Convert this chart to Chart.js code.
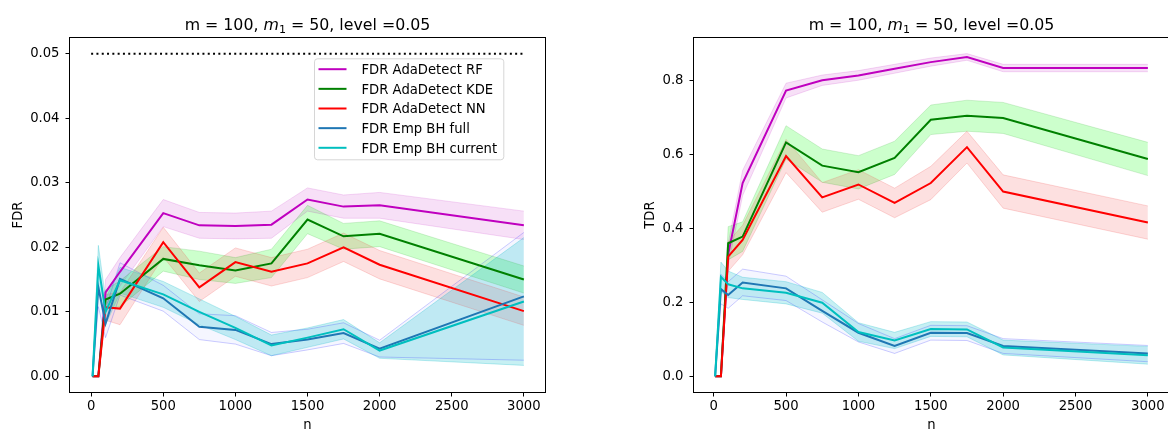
<!DOCTYPE html>
<html><head><meta charset="utf-8">
<script src="https://cdn.jsdelivr.net/npm/chart.js@4/dist/chart.umd.min.js"></script>
<style>
html,body{margin:0;padding:0;background:#fff;overflow:hidden;width:1168px;height:429px;position:relative;}
#c1{position:absolute;left:0;top:0;}
#c2{position:absolute;left:584px;top:0;}
</style></head><body>
<canvas id="c1" width="584" height="429"></canvas>
<canvas id="c2" width="600" height="429"></canvas>
<script>
// ---------- data ----------
const nValues = [10, 50, 100, 200, 500, 750, 1000, 1250, 1500, 1750, 2000, 3000];
const seriesLabels = ['FDR AdaDetect RF', 'FDR AdaDetect KDE', 'FDR AdaDetect NN', 'FDR Emp BH full', 'FDR Emp BH current'];
const level = 0.05;
const plotTitle = ['m = 100, ', 'm', '1', ' = 50, level =0.05'];

const fdrRF      = [0, 0, 0.0130, 0.0162, 0.0253, 0.0234, 0.0233, 0.0235, 0.0274, 0.0263, 0.0265, 0.0234];
const fdrKDE     = [0, 0, 0.0119, 0.0128, 0.0182, 0.0172, 0.0164, 0.0175, 0.0243, 0.0217, 0.0221, 0.0150];
const fdrNN      = [0, 0, 0.0107, 0.0105, 0.0208, 0.0138, 0.0177, 0.0162, 0.0175, 0.0200, 0.0173, 0.0101];
const fdrFull    = [0, 0.0138, 0.0082, 0.0151, 0.0121, 0.0077, 0.0072, 0.0050, 0.0057, 0.0067, 0.0043, 0.0124];
const fdrCurrent = [0, 0.0172, 0.0100, 0.0149, 0.0127, 0.0100, 0.0075, 0.0048, 0.0060, 0.0073, 0.0040, 0.0116];

const fdrRFsd      = [0, 0, 0.0020, 0.0022, 0.0021, 0.0020, 0.0020, 0.0021, 0.0018, 0.0018, 0.0020, 0.0022];
const fdrKDEsd     = [0, 0, 0.0015, 0.0020, 0.0019, 0.0022, 0.0020, 0.0022, 0.0022, 0.0020, 0.0020, 0.0021];
const fdrNNsd      = [0, 0, 0.0020, 0.0025, 0.0023, 0.0022, 0.0022, 0.0022, 0.0022, 0.0022, 0.0022, 0.0022];
const fdrFullsd    = [0, 0.0030, 0.0022, 0.0025, 0.0020, 0.0020, 0.0022, 0.0018, 0.0016, 0.0016, 0.0013, 0.0099];
const fdrCurrentsd = [0, 0.0031, 0.0020, 0.0020, 0.0020, 0.0020, 0.0018, 0.0016, 0.0015, 0.0015, 0.0012, 0.0099];

const tdrRF      = [0, 0, 0.330, 0.523, 0.773, 0.801, 0.814, 0.832, 0.850, 0.864, 0.834, 0.834];
const tdrKDE     = [0, 0, 0.360, 0.378, 0.633, 0.570, 0.552, 0.591, 0.694, 0.705, 0.699, 0.588];
const tdrNN      = [0, 0, 0.324, 0.369, 0.596, 0.484, 0.519, 0.469, 0.523, 0.620, 0.500, 0.416];
const tdrFull    = [0, 0.236, 0.220, 0.254, 0.238, 0.177, 0.118, 0.082, 0.118, 0.117, 0.082, 0.0615];
const tdrCurrent = [0, 0.269, 0.249, 0.238, 0.226, 0.199, 0.120, 0.097, 0.128, 0.127, 0.078, 0.057];

const tdrRFsd      = [0, 0, 0.030, 0.034, 0.020, 0.014, 0.013, 0.012, 0.011, 0.009, 0.010, 0.010];
const tdrKDEsd     = [0, 0, 0.045, 0.040, 0.045, 0.045, 0.045, 0.045, 0.040, 0.042, 0.042, 0.045];
const tdrNNsd      = [0, 0, 0.040, 0.040, 0.045, 0.040, 0.040, 0.040, 0.045, 0.043, 0.045, 0.045];
const tdrFullsd    = [0, 0.040, 0.036, 0.036, 0.033, 0.030, 0.025, 0.020, 0.020, 0.020, 0.020, 0.022];
const tdrCurrentsd = [0, 0.040, 0.036, 0.030, 0.030, 0.028, 0.025, 0.022, 0.020, 0.020, 0.020, 0.024];

const xTickValues = [0, 500, 1000, 1500, 2000, 2500, 3000];
const xTickLabels = ['0', '500', '1000', '1500', '2000', '2500', '3000'];
const fdrTickValues = [0, 0.01, 0.02, 0.03, 0.04, 0.05];
const fdrTickLabels = ['0.00', '0.01', '0.02', '0.03', '0.04', '0.05'];
const tdrTickValues = [0, 0.2, 0.4, 0.6, 0.8];
const tdrTickLabels = ['0.0', '0.2', '0.4', '0.6', '0.8'];

// ---------- styles ----------
const styles = [
  {color: '#bf00bf', fill: 'rgba(191,0,191,0.12)', edge: 'rgba(191,0,191,0.15)'},
  {color: '#008000', fill: 'rgba(0,255,0,0.2)',    edge: 'rgba(0,150,0,0.15)'},
  {color: '#ff0000', fill: 'rgba(240,50,50,0.15)', edge: 'rgba(240,50,50,0.18)'},
  {color: '#1f77b4', fill: 'rgba(90,110,255,0.06)', edge: 'rgba(0,0,255,0.2)'},
  {color: '#00bfbf', fill: 'rgba(0,185,200,0.22)', edge: 'rgba(0,185,200,0.25)'}
];
const FONT = '"DejaVu Sans", "Liberation Sans", sans-serif';
const TICK_SIZE = 13.2, TITLE_SIZE = 15.8;

function makePlot(id, W, H, area, o) {
  const ds = [];
  if (o.level != null) {
    ds.push({data: [{x: 0, y: o.level}, {x: 3000, y: o.level}], borderColor: '#000', borderWidth: 2,
             borderDash: [2, 3.3], fill: false, pointRadius: 0});
  }
  for (let k = o.means.length - 1; k >= 0; k--) {
    ds.push({label: seriesLabels[k], data: nValues.map((n, i) => ({x: n, y: o.means[k][i]})),
             borderColor: styles[k].color, borderWidth: 2, fill: false, pointRadius: 0});
  }
  for (let k = o.means.length - 1; k >= 0; k--) {
    ds.push({data: nValues.map((n, i) => ({x: n, y: o.means[k][i] + o.sds[k][i]})),
             borderColor: styles[k].edge, borderWidth: 1, fill: false, pointRadius: 0});
    ds.push({data: nValues.map((n, i) => ({x: n, y: o.means[k][i] - o.sds[k][i]})),
             borderColor: styles[k].edge, borderWidth: 1, backgroundColor: styles[k].fill, fill: '-1', pointRadius: 0});
  }

  const deco = {
    id: 'deco',
    afterDraw(chart) {
      const ctx = chart.ctx, a = chart.chartArea;
      ctx.save();
      // frame
      ctx.strokeStyle = '#000'; ctx.lineWidth = 1;
      ctx.strokeRect(a.left, a.top, a.right - a.left, a.bottom - a.top);
      // title with math-italic m_1
      const cx = (a.left + a.right) / 2, by = 29.5;
      const fN = TITLE_SIZE + 'px ' + FONT, fI = 'italic ' + TITLE_SIZE + 'px ' + FONT,
            fS = (TITLE_SIZE * 0.7).toFixed(2) + 'px ' + FONT;
      const parts = [[plotTitle[0], fN, 0], [plotTitle[1], fI, 0], [plotTitle[2], fS, 3.5], [plotTitle[3], fN, 0]];
      let total = 0;
      parts.forEach(p => { ctx.font = p[1]; p.push(ctx.measureText(p[0]).width); total += p[3]; });
      let x = cx - total / 2;
      ctx.fillStyle = '#000'; ctx.textBaseline = 'alphabetic'; ctx.textAlign = 'left';
      parts.forEach(p => { ctx.font = p[1]; ctx.fillText(p[0], x, by + p[2]); x += p[3]; });
      // axis labels
      ctx.font = TICK_SIZE + 'px ' + FONT;
      ctx.textAlign = 'center';
      ctx.fillText('n', cx, 428.5);
      ctx.save();
      ctx.translate(o.yLabelX, (a.top + a.bottom) / 2);
      ctx.rotate(-Math.PI / 2);
      ctx.textBaseline = 'middle';
      ctx.fillText(o.yLabel, 0, 0);
      ctx.restore();
      // legend
      if (o.legend) {
        const bx = 314, bw = 189.3, btop = 58.3, bh = 101;
        ctx.beginPath();
        ctx.roundRect(bx + 0.5, btop + 0.5, bw, bh, 3);
        ctx.fillStyle = 'rgba(255,255,255,0.8)'; ctx.fill();
        ctx.strokeStyle = 'rgba(204,204,204,0.8)'; ctx.lineWidth = 1; ctx.stroke();
        ctx.font = TICK_SIZE + 'px ' + FONT;
        ctx.textAlign = 'left'; ctx.textBaseline = 'alphabetic';
        for (let k = 0; k < seriesLabels.length; k++) {
          const ry = 69.2 + k * 19.65;
          ctx.strokeStyle = styles[k].color; ctx.lineWidth = 2;
          ctx.beginPath(); ctx.moveTo(318.5, ry); ctx.lineTo(346.5, ry); ctx.stroke();
          ctx.fillStyle = '#000';
          ctx.fillText(seriesLabels[k], 361.5, ry + 4.8);
        }
      }
      ctx.restore();
    }
  };

  return new Chart(document.getElementById(id), {
    type: 'line',
    data: {datasets: ds},
    options: {
      responsive: false, animation: false, devicePixelRatio: 1,
      layout: {padding: {left: 0, top: area.top, right: W - area.right, bottom: 0}, autoPadding: false},
      elements: {line: {tension: 0}, point: {radius: 0}},
      plugins: {legend: {display: false}, tooltip: {enabled: false}, filler: {drawTime: 'beforeDatasetsDraw'}},
      scales: {
        x: {
          type: 'linear', min: o.xMin, max: o.xMax, bounds: 'data',
          afterBuildTicks: s => { s.ticks = xTickValues.map(v => ({value: v})); },
          afterFit: s => { s.height = H - area.bottom; },
          ticks: {autoSkip: false, maxRotation: 0, minRotation: 0, padding: 2.5, color: '#000',
                  font: {family: FONT, size: TICK_SIZE}, callback: (v, i) => xTickLabels[i]},
          grid: {display: true, drawOnChartArea: false, drawTicks: true, tickLength: 4, color: '#000', lineWidth: 1},
          border: {display: false}
        },
        y: {
          type: 'linear', min: o.yMin, max: o.yMax, bounds: 'data',
          afterBuildTicks: s => { s.ticks = o.yTickValues.map(v => ({value: v})); },
          afterFit: s => { s.width = area.left; },
          ticks: {autoSkip: false, padding: 6, color: '#000',
                  font: {family: FONT, size: TICK_SIZE}, callback: (v, i) => o.yTickLabels[i]},
          grid: {display: true, drawOnChartArea: false, drawTicks: true, tickLength: 4, color: '#000', lineWidth: 1},
          border: {display: false}
        }
      }
    },
    plugins: [deco]
  });
}

makePlot('c1', 584, 429, {left: 69.5, right: 545.5, top: 37.5, bottom: 392.5}, {
  means: [fdrRF, fdrKDE, fdrNN, fdrFull, fdrCurrent],
  sds: [fdrRFsd, fdrKDEsd, fdrNNsd, fdrFullsd, fdrCurrentsd],
  level: level, legend: true,
  xMin: -150, xMax: 3150, yMin: -0.0025, yMax: 0.0525,
  yTickValues: fdrTickValues, yTickLabels: fdrTickLabels,
  yLabel: 'FDR', yLabelX: 19
});

makePlot('c2', 600, 429, {left: 109.5, right: 585.5, top: 37.5, bottom: 392.5}, {
  means: [tdrRF, tdrKDE, tdrNN, tdrFull, tdrCurrent],
  sds: [tdrRFsd, tdrKDEsd, tdrNNsd, tdrFullsd, tdrCurrentsd],
  level: null, legend: false,
  xMin: -139.5, xMax: 3149.5, yMin: -0.0437, yMax: 0.9166,
  yTickValues: tdrTickValues, yTickLabels: tdrTickLabels,
  yLabel: 'TDR', yLabelX: 67
});
</script>
</body></html>
